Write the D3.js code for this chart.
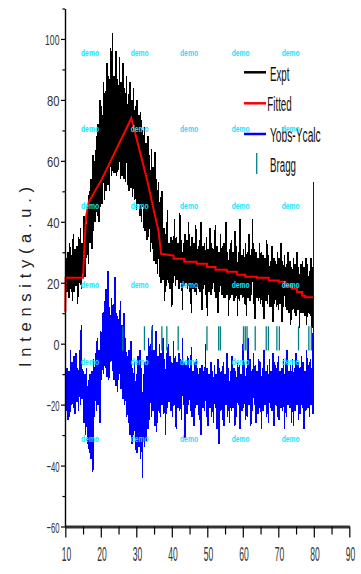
<!DOCTYPE html>
<html>
<head>
<meta charset="utf-8">
<script src="https://cdn.jsdelivr.net/npm/d3@7"></script>
<style>
html,body{margin:0;padding:0;background:#fff;}
svg{display:block;}
text{font-family:"Liberation Sans",Arial,sans-serif;}
</style>
</head>
<body>
<svg id="chart" width="361" height="574"></svg>
<script>
// ---------- data ----------
const exptStart = 10, exptStep = 0.25;
const expt = [
10,28,17,30, 15,33,18,29, 14,36,17,31, 19,32,13,35, 20,38,18,33,
23,42,22,37, 28,44,26,50, 33,54,31,62, 37,60,40,68, 42,72,40,80,
45,78,46,86, 47,83,50,92, 52,88,50,97, 55,102,56,88, 56,96,55,87,
57,94,54,86, 55,92,54,84, 53,88,52,82, 50,86,51,80, 48,84,47,78,
44,80,46,75, 42,76,40,70, 38,71,37,66, 34,68,35,62, 30,64,31,58,
27,63,26,54, 23,53,22,48, 20,50,21,38, 14,36,19,44, 20,33,18,35,
12,34,20,41, 19,35,21,33, 18,43,20,34, 11,33,19,36, 20,34,18,40,
17,32,10,35, 18,33,17,39, 16,31,18,34, 17,40,11,32, 18,33,16,35,
9,31,17,38, 16,33,18,31, 17,39,15,32, 10,30,17,36, 16,32,15,33,
15,40,16,30, 9,31,15,34, 16,30,14,37, 15,32,9,30, 14,41,16,29,
15,31,13,33, 9,30,15,36, 14,29,16,41, 13,31,8,30, 15,28,14,33,
13,30,12,29, 8,28,14,34, 13,29,12,27, 12,32,7,28, 13,27,12,30,
11,28,13,33, 7,27,12,29, 12,26,11,30, 10,27,6,25, 11,28,10,26,
9,30,11,25, 5,26,10,27, 10,25,9,28, 6,26,10,24, 9,28,5,25,
12
];
const diff = [
-14,-22,-8,-25, -9,-24,-2,-20, -6,-21,-4,-23, -3,-19,-8,-22, -2,-20,6,-18,
-9,-26,-10,-30, -8,-33,-12,-36, -10,-38,-9,-42, -5,-24,-3,-22, 2,-20,-2,-26,
4,-12,10,-10, 14,-8,18,-11, 24,-12,12,-6, 15,-9,13,-12, 22,-14,10,-16,
8,-10,14,-15, 6,-18,10,-20, 2,-24,-4,-26, -2,-30,1,-33, -8,-30,-6,-35,
-10,-36,-4,-34, -2,-38,-8,-44, -10,-34,-6,-32, -4,-28,2,-25, 0,-24,6,-22,
-2,-27,4,-29, -4,-22,0,-24, -3,-20,2,-23, -5,-30,-3,-21, 0,-19,-4,-22,
-6,-24,1,-20, -4,-28,-6,-21, -3,-22,-5,-25, 2,-20,-6,-31, -7,-23,-4,-20,
-8,-22,-1,-24, -9,-27,-6,-21, -5,-20,-10,-25, -8,-30,-7,-21, -9,-22,0,-24,
-8,-27,-10,-21, -6,-24,-9,-26, -7,-21,-10,-28, -5,-33,-8,-22, -9,-25,-6,-27,
-10,-20,-3,-24, -8,-26,-9,-22, -4,-21,-8,-27, -9,-24,-6,-20, -7,-28,-10,-22,
0,-21,-6,-25, -8,-24,2,-20, -5,-27,-9,-22, -3,-20,-7,-26, -9,-23,-5,-21,
-6,-28,-8,-22, -2,-20,-9,-24, -7,-26,-5,-21, -9,-22,-3,-27, -6,-20,-8,-24,
-4,-25,-9,-21, -8,-22,-5,-28, -6,-24,-2,-20, -9,-21,-7,-26, -5,-27,-8,-22,
-3,-20,-6,-25, -8,-23,-4,-21, -6,-28,-9,-22, -2,-21,-7,-24, -5,-20,-8,-23,
53
];
const fittedX = [10,10.1,15,15.5,15.9,16.6,20.3,28.6,33,34.9,36.3,37,
  40.5,40.5,43.5,43.5,47,47,49.9,49.9,52.3,52.3,55.5,55.5,58.4,58.4,60.7,60.7,
  64,64,67.3,67.3,70.1,70.1,72,72,73.8,73.8,75.3,75.3,76.7,76.7,77.6,77.6,80];
const fittedY = [10.5,21.6,21.6,35,42,46.5,54,74,54,44,36.7,29.5,
  28.9,27.9,27.9,26.9,26.9,26.2,26.2,25.2,25.2,24.3,24.3,23.6,23.6,22.6,22.6,22,
  22,21.6,21.6,20.7,20.7,20.3,20.3,19,19,18,18,17,17,15.7,15.7,15.2,15.2];
const bragg = [26.2,32.3,34.4,37.2,38.6,41.8,49.9,53.2,53.7,60.2,60.7,61.2,
  63.5,66.6,67.2,69.6,70.3,75.7,78.6,79.3];
const braggRange = [-2.2, 5.7];
const xTicks = [10,20,30,40,50,60,70,80,90];
const xMinor = [15,25,35,45,55,65,75,85];
const yTicks = [-60,-40,-20,0,20,40,60,80,100];
const yMinor = [-50,-30,-10,10,30,50,70,90,110];
const legendLabels = ["Expt","Fitted","Yobs-Ycalc","Bragg"];
const yTitle = "Intensity(a.u.)";

// ---------- drawing ----------
const svg = d3.select("#chart");
const x = d3.scaleLinear().domain([10,90]).range([65.3,349.3]);
const y = d3.scaleLinear().domain([-60,110]).range([526.5,8.5]);

const exptPts = expt.map((v,i)=>[exptStart+i*exptStep, v]);
const diffPts = diff.map((v,i)=>[exptStart+i*exptStep, v]);
const fitPts = fittedX.map((v,i)=>[v, fittedY[i]]);
const line = d3.line().x(d=>x(d[0])).y(d=>y(d[1]));

svg.append("path").attr("d", line(exptPts)).attr("fill","none")
  .attr("stroke","#000").attr("stroke-width",1.4).attr("shape-rendering","crispEdges");
svg.append("path").attr("d", line(fitPts)).attr("fill","none")
  .attr("stroke","#ff0000").attr("stroke-width",2);
svg.append("path").attr("d", line(diffPts)).attr("fill","none")
  .attr("stroke","#0000ff").attr("stroke-width",1.4).attr("shape-rendering","crispEdges");
svg.append("g").selectAll("line").data(bragg).join("line")
  .attr("x1",d=>x(d)).attr("x2",d=>x(d))
  .attr("y1",y(braggRange[0])).attr("y2",y(braggRange[1]))
  .attr("stroke","#008080").attr("stroke-width",1.3);

// Y axis
const gy = svg.append("g").attr("transform","translate(65,0)");
gy.call(d3.axisLeft(y).tickValues(yTicks).tickSize(4).tickSizeOuter(0));
gy.select(".domain").attr("stroke","#000").attr("stroke-width",1.4);
gy.selectAll(".tick line").attr("stroke","#000").attr("stroke-width",1.2);
gy.selectAll(".tick text").each(function(d){
  const s = String(d);
  const tl = s.length===1 ? 6 : (s.length===3 ? (d<0?13:14.5) : 12.5);
  d3.select(this).attr("text-anchor","start").attr("x",-5.5-tl).attr("dy",null).attr("y",5.5)
    .attr("font-size",15.5).attr("fill","#333").attr("textLength",tl)
    .attr("lengthAdjust","spacingAndGlyphs").attr("font-family",null);
});
const gym = svg.append("g").attr("transform","translate(65,0)");
gym.call(d3.axisLeft(y).tickValues(yMinor).tickSize(2.6).tickFormat(""));
gym.select(".domain").remove();
gym.selectAll(".tick line").attr("stroke","#000").attr("stroke-width",1.2);

// X axis
const gx = svg.append("g").attr("transform","translate(0,526.5)");
gx.call(d3.axisBottom(x).tickValues(xTicks).tickSize(11).tickSizeOuter(0));
gx.select(".domain").attr("stroke","#333").attr("stroke-width",3);
gx.selectAll(".tick line").attr("stroke","#000").attr("stroke-width",1.2);
gx.selectAll(".tick text").each(function(){
  const tl = 9.5;
  d3.select(this).attr("text-anchor","start").attr("x",-tl/2+0.8).attr("dy",null).attr("y",34.5)
    .attr("font-size",20).attr("fill","#333").attr("textLength",tl)
    .attr("lengthAdjust","spacingAndGlyphs").attr("font-family",null);
});
const gxm = svg.append("g").attr("transform","translate(0,526.5)");
gxm.call(d3.axisBottom(x).tickValues(xMinor).tickSize(8).tickFormat(""));
gxm.select(".domain").remove();
gxm.selectAll(".tick line").attr("stroke","#000").attr("stroke-width",1.2);

// Y title
svg.append("text").attr("transform","translate(31,0) rotate(-90)")
  .attr("x",-367).attr("y",0).attr("font-size",16.5).attr("fill","#222")
  .attr("textLength",180).attr("lengthAdjust","spacing").text(yTitle);

// Legend
const legend = svg.append("g");
const legRows = [
  {type:"line", color:"#000", ly:72.3, tx:270, ty:80.5, tl:19.5},
  {type:"line", color:"#ff0000", ly:103.3, tx:267.3, ty:111, tl:24.4},
  {type:"line", color:"#0000ff", ly:134, tx:270, ty:141.7, tl:50.7},
  {type:"tick", color:"#008080", ly:163.5, tx:270, ty:171.7, tl:26}
];
legRows.forEach((r,i)=>{
  if(r.type==="line"){
    legend.append("line").attr("x1",244).attr("x2",266).attr("y1",r.ly).attr("y2",r.ly)
      .attr("stroke",r.color).attr("stroke-width",2.5);
  } else {
    legend.append("line").attr("x1",256.7).attr("x2",256.7).attr("y1",153).attr("y2",174)
      .attr("stroke",r.color).attr("stroke-width",1.3);
  }
  legend.append("text").attr("x",r.tx).attr("y",r.ty).attr("font-size",20).attr("fill","#111")
    .attr("textLength",r.tl).attr("lengthAdjust","spacingAndGlyphs").text(legendLabels[i]);
});

// watermark
const wm = svg.append("g");
const wmCols = [81,130.7,180,231.7,281.7];
const wmRows = [52.3,128.3,205.7,285,361.7,438.3];
wmRows.forEach(ry=>wmCols.forEach(cx=>{
  wm.append("text").attr("x",cx).attr("y",ry+3.3).attr("font-size",8.5).attr("font-weight","bold")
    .attr("fill","#14e4ff")
    .attr("textLength",18).attr("lengthAdjust","spacingAndGlyphs").text("demo");
}));
</script>
</body>
</html>
